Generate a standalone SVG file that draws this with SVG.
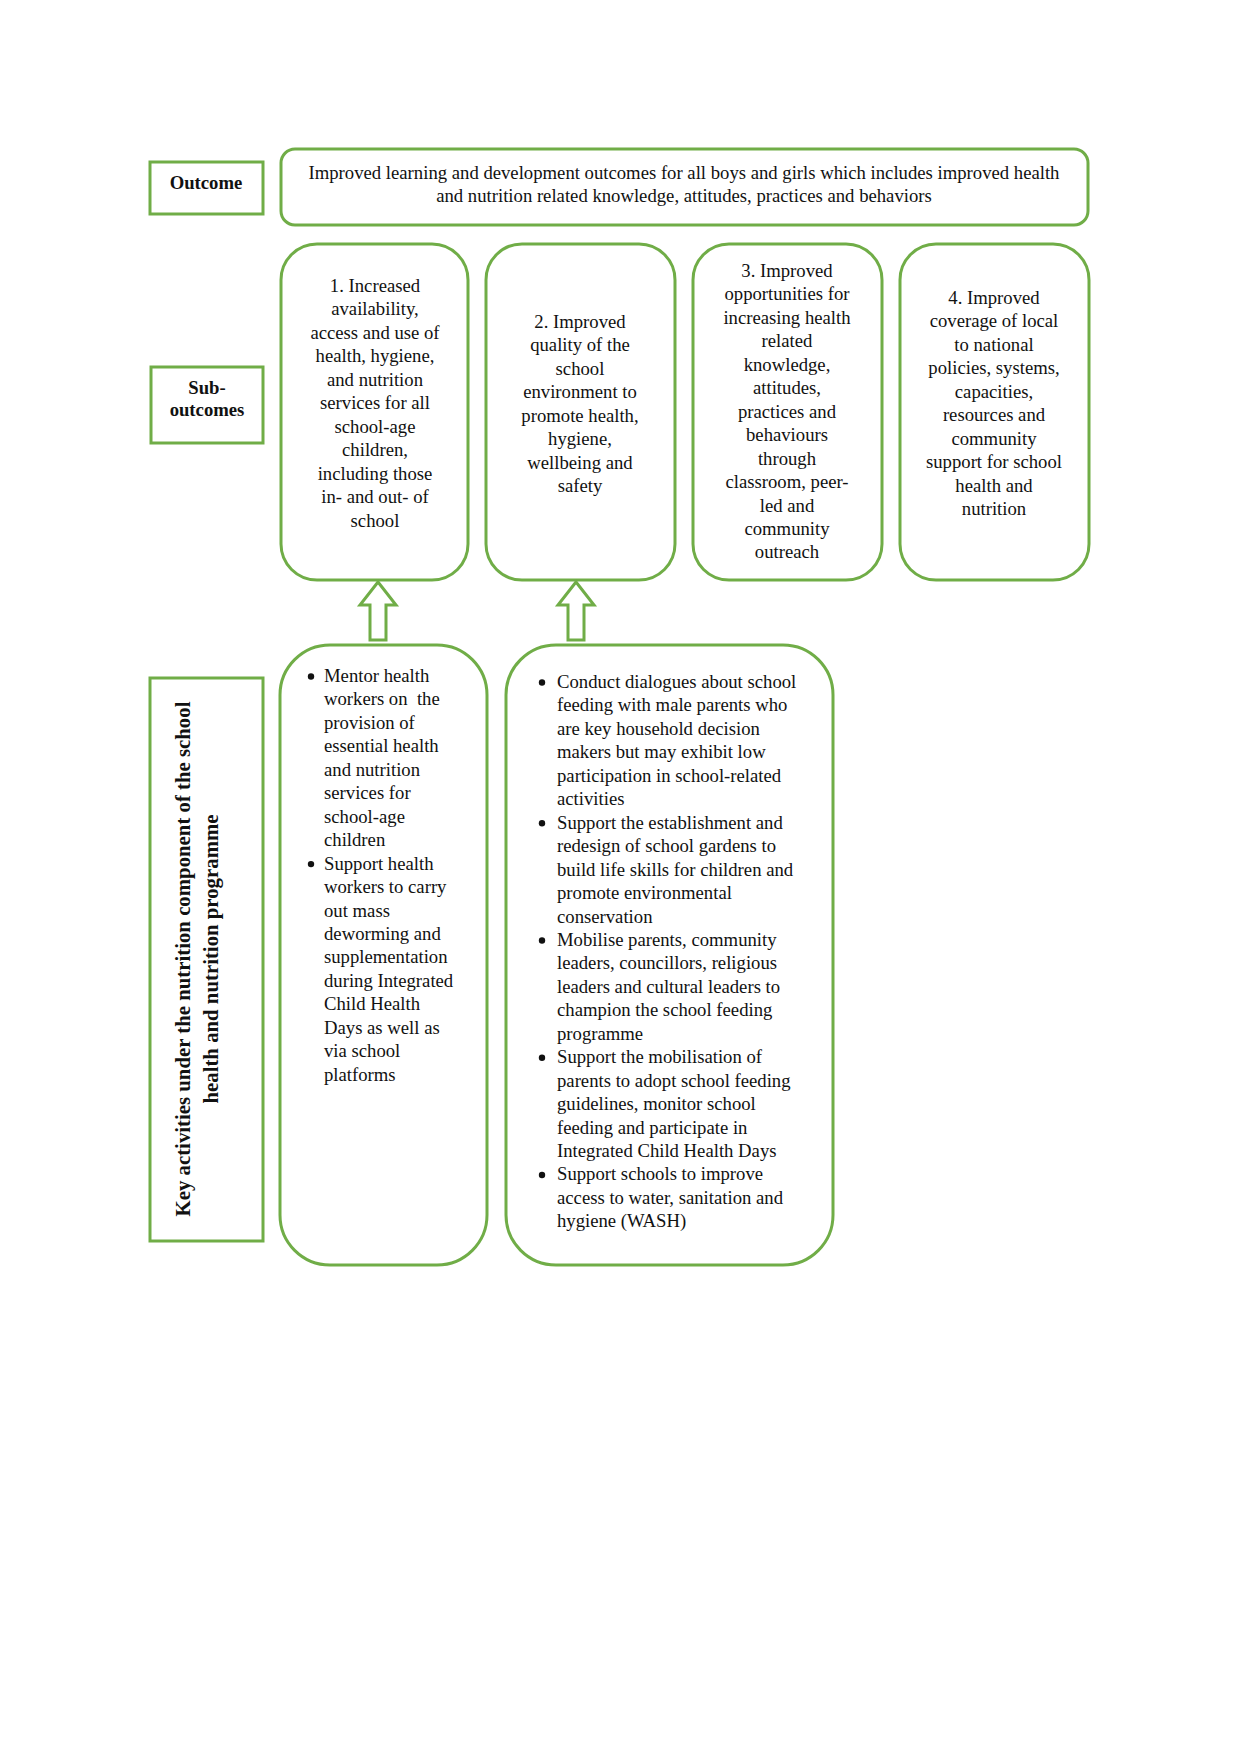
<svg xmlns="http://www.w3.org/2000/svg" width="1240" height="1754" viewBox="0 0 1240 1754">
<style>
.box{fill:#fff;stroke:#70AD47;stroke-width:3}
.t{font-family:"Liberation Serif","Times New Roman",serif;font-size:18.7px;fill:#111}
.c{text-anchor:middle}
.b{font-weight:bold}
.v{font-size:20.8px}
.dot{fill:#111}
</style>
<rect width="1240" height="1754" fill="#fff"/>
<g id="outcome-label">
<rect class="box" x="150" y="162" width="113" height="52"/>
<text class="t b c" x="206" y="189">Outcome</text>
</g>
<g id="outcome">
<rect class="box" x="281" y="149" width="807" height="76" rx="14"/>
<text class="t c" x="684" y="179">Improved learning and development outcomes for all boys and girls which includes improved health</text>
<text class="t c" x="684" y="202">and nutrition related knowledge, attitudes, practices and behaviors</text>
</g>
<g id="suboutcomes-label">
<rect class="box" x="151" y="367" width="112" height="76"/>
<text class="t b c" x="207" y="394">Sub-</text>
<text class="t b c" x="207" y="416">outcomes</text>
</g>
<g id="sub1">
<rect class="box" x="281" y="244" width="187" height="336" rx="36"/>
<text class="t c" x="375" y="292">1. Increased<tspan x="375" dy="23.45">availability,</tspan><tspan x="375" dy="23.45">access and use of</tspan><tspan x="375" dy="23.45">health, hygiene,</tspan><tspan x="375" dy="23.45">and nutrition</tspan><tspan x="375" dy="23.45">services for all</tspan><tspan x="375" dy="23.45">school-age</tspan><tspan x="375" dy="23.45">children,</tspan><tspan x="375" dy="23.45">including those</tspan><tspan x="375" dy="23.45">in- and out- of</tspan><tspan x="375" dy="23.45">school</tspan></text>
</g>
<g id="sub2">
<rect class="box" x="486" y="244" width="189" height="336" rx="36"/>
<text class="t c" x="580" y="328">2. Improved<tspan x="580" dy="23.45">quality of the</tspan><tspan x="580" dy="23.45">school</tspan><tspan x="580" dy="23.45">environment to</tspan><tspan x="580" dy="23.45">promote health,</tspan><tspan x="580" dy="23.45">hygiene,</tspan><tspan x="580" dy="23.45">wellbeing and</tspan><tspan x="580" dy="23.45">safety</tspan></text>
</g>
<g id="sub3">
<rect class="box" x="693" y="244" width="189" height="336" rx="36"/>
<text class="t c" x="787" y="277">3. Improved<tspan x="787" dy="23.45">opportunities for</tspan><tspan x="787" dy="23.45">increasing health</tspan><tspan x="787" dy="23.45">related</tspan><tspan x="787" dy="23.45">knowledge,</tspan><tspan x="787" dy="23.45">attitudes,</tspan><tspan x="787" dy="23.45">practices and</tspan><tspan x="787" dy="23.45">behaviours</tspan><tspan x="787" dy="23.45">through</tspan><tspan x="787" dy="23.45">classroom, peer-</tspan><tspan x="787" dy="23.45">led and</tspan><tspan x="787" dy="23.45">community</tspan><tspan x="787" dy="23.45">outreach</tspan></text>
</g>
<g id="sub4">
<rect class="box" x="900" y="244" width="189" height="336" rx="36"/>
<text class="t c" x="994" y="304">4. Improved<tspan x="994" dy="23.45">coverage of local</tspan><tspan x="994" dy="23.45">to national</tspan><tspan x="994" dy="23.45">policies, systems,</tspan><tspan x="994" dy="23.45">capacities,</tspan><tspan x="994" dy="23.45">resources and</tspan><tspan x="994" dy="23.45">community</tspan><tspan x="994" dy="23.45">support for school</tspan><tspan x="994" dy="23.45">health and</tspan><tspan x="994" dy="23.45">nutrition</tspan></text>
</g>
<g id="connectors">
<path class="box" d="M378,582 L396,605 L386,605 L386,640 L370,640 L370,605 L360,605 Z"/>
<path class="box" d="M576,582 L594,605 L584,605 L584,640 L568,640 L568,605 L558,605 Z"/>
</g>
<g id="activities-label">
<rect class="box" x="150" y="678" width="113" height="563"/>
<text class="t b c v" transform="translate(190,959) rotate(-90)">Key activities under the nutrition component of the school</text>
<text class="t b c v" transform="translate(218,959) rotate(-90)">health and nutrition programme</text>
</g>
<g id="activities1">
<rect class="box" x="280" y="645" width="207" height="620" rx="50"/>
<circle class="dot" cx="311" cy="676.5" r="3.2"/>
<circle class="dot" cx="311" cy="864.1" r="3.2"/>
<text class="t" x="324" y="682">Mentor health<tspan x="324" dy="23.45" xml:space="preserve">workers on  the</tspan><tspan x="324" dy="23.45">provision of</tspan><tspan x="324" dy="23.45">essential health</tspan><tspan x="324" dy="23.45">and nutrition</tspan><tspan x="324" dy="23.45">services for</tspan><tspan x="324" dy="23.45">school-age</tspan><tspan x="324" dy="23.45">children</tspan><tspan x="324" dy="23.45">Support health</tspan><tspan x="324" dy="23.45">workers to carry</tspan><tspan x="324" dy="23.45">out mass</tspan><tspan x="324" dy="23.45">deworming and</tspan><tspan x="324" dy="23.45">supplementation</tspan><tspan x="324" dy="23.45">during Integrated</tspan><tspan x="324" dy="23.45">Child Health</tspan><tspan x="324" dy="23.45">Days as well as</tspan><tspan x="324" dy="23.45">via school</tspan><tspan x="324" dy="23.45">platforms</tspan></text>
</g>
<g id="activities2">
<rect class="box" x="506" y="645" width="327" height="620" rx="50"/>
<circle class="dot" cx="542" cy="682.5" r="3.2"/>
<circle class="dot" cx="542" cy="823.2" r="3.2"/>
<circle class="dot" cx="542" cy="940.5" r="3.2"/>
<circle class="dot" cx="542" cy="1057.7" r="3.2"/>
<circle class="dot" cx="542" cy="1175" r="3.2"/>
<text class="t" x="557" y="688">Conduct dialogues about school<tspan x="557" dy="23.45">feeding with male parents who</tspan><tspan x="557" dy="23.45">are key household decision</tspan><tspan x="557" dy="23.45">makers but may exhibit low</tspan><tspan x="557" dy="23.45">participation in school-related</tspan><tspan x="557" dy="23.45">activities</tspan><tspan x="557" dy="23.45">Support the establishment and</tspan><tspan x="557" dy="23.45">redesign of school gardens to</tspan><tspan x="557" dy="23.45">build life skills for children and</tspan><tspan x="557" dy="23.45">promote environmental</tspan><tspan x="557" dy="23.45">conservation</tspan><tspan x="557" dy="23.45">Mobilise parents, community</tspan><tspan x="557" dy="23.45">leaders, councillors, religious</tspan><tspan x="557" dy="23.45">leaders and cultural leaders to</tspan><tspan x="557" dy="23.45">champion the school feeding</tspan><tspan x="557" dy="23.45">programme</tspan><tspan x="557" dy="23.45">Support the mobilisation of</tspan><tspan x="557" dy="23.45">parents to adopt school feeding</tspan><tspan x="557" dy="23.45">guidelines, monitor school</tspan><tspan x="557" dy="23.45">feeding and participate in</tspan><tspan x="557" dy="23.45">Integrated Child Health Days</tspan><tspan x="557" dy="23.45">Support schools to improve</tspan><tspan x="557" dy="23.45">access to water, sanitation and</tspan><tspan x="557" dy="23.45">hygiene (WASH)</tspan></text>
</g>
</svg>
